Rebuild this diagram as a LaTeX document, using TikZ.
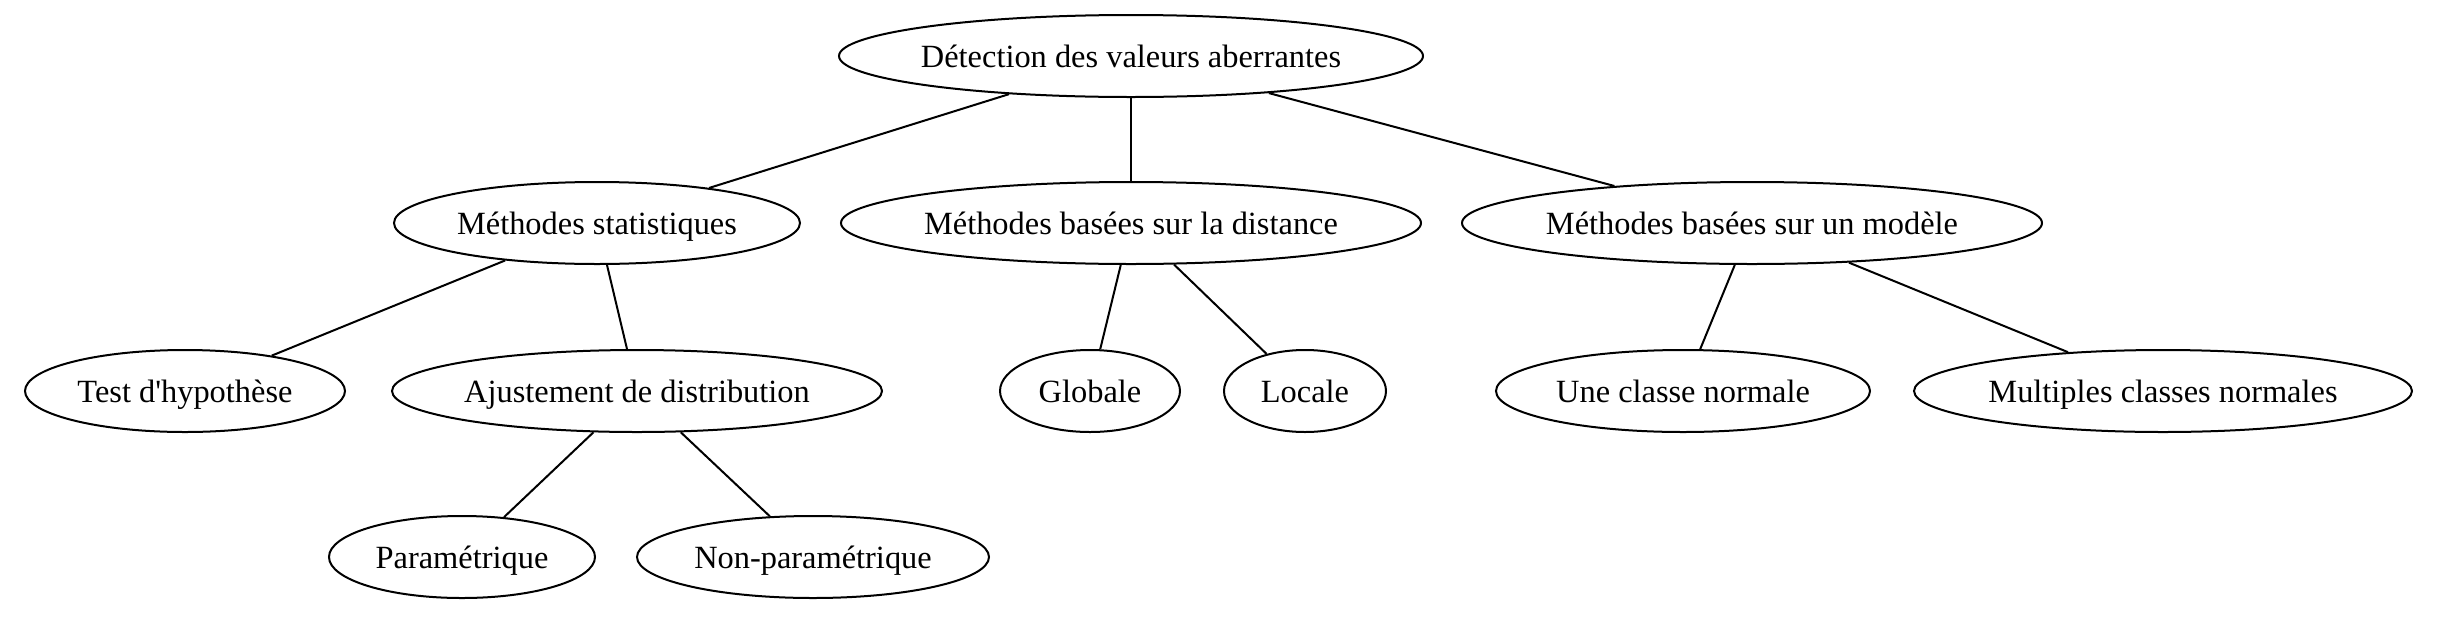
\documentclass[tikz,border=0pt]{standalone}
\usepackage{fontspec}
\setmainfont{Liberation Serif}[Ligatures=TeXOff]
\usetikzlibrary{shapes.geometric}
\begin{document}
\begin{tikzpicture}[x=0.5pt,y=-0.5pt,
  el/.style={draw, ellipse, line width=1pt, inner sep=0pt, minimum height=41pt, text height=13pt, text depth=2pt, font=\fontsize{16.2}{19}\selectfont},
  ed/.style={line width=1pt}]
\newcommand\tx[1]{\makebox[0pt][c]{#1}}
\useasboundingbox (0,0) rectangle (2442,622);
\node[el, minimum width=292pt] (root) at (1131,56) {\tx{Détection des valeurs aberrantes}};
\node[el, minimum width=203pt] (stat) at (597,223) {\tx{Méthodes statistiques}};
\node[el, minimum width=290pt] (dist) at (1131,223) {\tx{Méthodes basées sur la distance}};
\node[el, minimum width=290pt] (mod) at (1752,223) {\tx{Méthodes basées sur un modèle}};
\node[el, minimum width=160pt] (test) at (185,391) {\tx{Test d'hypothèse}};
\node[el, minimum width=245pt] (ajus) at (637,391) {\tx{Ajustement de distribution}};
\node[el, minimum width=90pt] (glob) at (1090,391) {\tx{Globale}};
\node[el, minimum width=81pt] (loc) at (1305,391) {\tx{Locale}};
\node[el, minimum width=187pt] (une) at (1683,391) {\tx{Une classe normale}};
\node[el, minimum width=249pt] (mult) at (2163,391) {\tx{Multiples classes normales}};
\node[el, minimum width=133pt] (para) at (462,557) {\tx{Paramétrique}};
\node[el, minimum width=176pt] (npar) at (813,557) {\tx{Non-paramétrique}};
\draw[ed] (root) -- (stat);
\draw[ed] (root) -- (dist);
\draw[ed] (root) -- (mod);
\draw[ed] (stat) -- (test);
\draw[ed] (stat) -- (ajus);
\draw[ed] (dist) -- (glob);
\draw[ed] (dist) -- (loc);
\draw[ed] (mod) -- (une);
\draw[ed] (mod) -- (mult);
\draw[ed] (ajus) -- (para);
\draw[ed] (ajus) -- (npar);
\end{tikzpicture}
\end{document}
